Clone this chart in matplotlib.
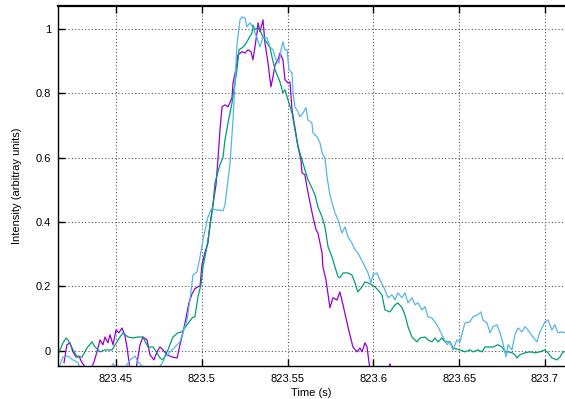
import matplotlib
matplotlib.use("Agg")
import numpy as np
import matplotlib.pyplot as plt

# time offsets in ms after 823.4 s, intensity in arbitrary units
t0 = 823.4

violet_ms = [19.7, 21.4, 23.2, 24.9, 26.7, 28.4, 30.2, 32.5, 34.8, 37.2, 38.9, 40.7, 42.4, 43.6, 45.3,
             46.5, 48.3, 50.0, 51.7, 53.5, 55.2, 56.4, 58.2, 61.1, 64.0, 65.7, 68.1, 69.8, 72.1, 73.9,
             75.6, 77.4, 79.7, 82.6, 85.6, 87.3, 89.0, 90.8, 92.5, 94.3, 96.0, 97.8, 99.0, 100.1, 101.9,
             103.6, 104.8, 106.5, 108.3, 109.4, 110.6, 111.8, 113.5, 115.3, 117.6, 118.2, 119.4, 120.5,
             121.1, 123.4, 125.2, 126.9, 128.7, 129.8, 131.0, 132.2, 132.8, 133.9, 135.7, 136.8, 138.6,
             140.3, 141.5, 142.7, 144.4, 145.6, 147.3, 148.5, 150.2, 151.4, 152.6, 154.3, 156.1, 157.8,
             158.4, 160.1, 161.3, 163.1, 164.8, 166.6, 167.7, 170.1, 170.6, 172.4, 174.7, 176.5, 178.8,
             180.5, 182.3, 185.2, 188.1, 190.5, 192.2, 193.4, 195.1, 196.3, 197.5, 199.2, 203.9, 208.5,
             209.7, 211.4, 215.5]
violet_val = [-0.037, 0.019, 0.025, -0.003, -0.019, -0.016, -0.037, -0.053, -0.065, -0.034, -0.003, 0.034,
              0.019, 0.043, 0.025, 0.050, 0.019, 0.065, 0.056, 0.071, 0.047, 0.012, -0.059, -0.075, 0.019,
              0.043, 0.034, -0.012, -0.028, -0.003, 0.012, 0.003, -0.012, -0.019, -0.022, 0.019, 0.056,
              0.102, 0.149, 0.177, 0.193, 0.199, 0.202, 0.267, 0.307, 0.335, 0.391, 0.453, 0.516, 0.593,
              0.686, 0.758, 0.764, 0.758, 0.786, 0.832, 0.863, 0.894, 0.919, 0.929, 0.925, 0.935, 0.929,
              0.904, 0.944, 0.988, 1.019, 0.991, 1.028, 0.957, 0.894, 0.820, 0.851, 0.888, 0.904, 0.925,
              0.904, 0.842, 0.832, 0.835, 0.748, 0.693, 0.634, 0.593, 0.553, 0.547, 0.509, 0.460, 0.416,
              0.376, 0.366, 0.304, 0.261, 0.220, 0.134, 0.165, 0.158, 0.183, 0.143, 0.075, 0.012, -0.003,
              0.009, -0.003, 0.025, 0.012, -0.037, -0.106, -0.106, -0.065, -0.040, -0.075, -0.137]

green_ms = [16.2, 17.4, 19.1, 20.9, 22.0, 24.4, 27.3, 30.2, 33.1, 36.0, 37.8, 40.7, 43.6, 47.7, 50.6,
            52.3, 54.1, 57.0, 59.9, 62.8, 65.7, 68.6, 71.6, 73.9, 75.6, 77.4, 80.3, 83.2, 86.1, 88.5,
            91.4, 94.3, 96.0, 97.8, 99.5, 100.7, 103.0, 104.8, 106.5, 107.7, 110.6, 112.4, 113.5, 115.3,
            117.6, 120.5, 121.7, 123.4, 125.2, 126.9, 129.3, 129.8, 131.0, 132.2, 133.9, 135.1, 136.8,
            138.0, 139.8, 140.9, 142.7, 144.4, 145.6, 147.3, 148.5, 150.2, 152.6, 154.3, 156.1, 158.4,
            160.1, 161.9, 164.2, 166.0, 167.7, 170.1, 171.8, 173.6, 175.9, 177.6, 179.4, 180.5, 182.3,
            185.2, 187.5, 189.3, 191.0, 193.4, 195.1, 196.9, 199.2, 200.9, 202.7, 205.0, 206.8, 209.7,
            212.6, 214.3, 216.7, 218.4, 220.2, 222.5, 225.4, 227.2, 230.1, 231.8, 234.2, 235.9, 237.7,
            240.0, 241.7, 244.7, 246.4, 250.5, 253.4, 256.3, 258.1, 261.0, 263.3, 265.1, 266.8, 269.7,
            272.6, 275.0, 276.7, 278.5, 280.8, 282.5, 283.7, 285.5, 288.4, 291.3, 294.2, 297.1, 300.0,
            301.8, 304.1, 307.0, 308.8, 310.5, 311.7]
green_val = [-0.012, 0.003, 0.025, 0.040, 0.034, 0.009, -0.019, -0.019, 0.009, 0.028, 0.012, -0.003,
             0.003, 0.003, 0.028, 0.043, 0.056, 0.043, 0.040, 0.043, 0.043, 0.012, 0.012, -0.006, -0.022,
             -0.028, 0.003, 0.043, 0.056, 0.059, 0.081, 0.102, 0.106, 0.168, 0.205, 0.261, 0.323, 0.391,
             0.453, 0.522, 0.578, 0.602, 0.655, 0.708, 0.770, 0.873, 0.935, 0.941, 0.950, 0.966, 0.988,
             1.012, 0.997, 1.003, 0.997, 0.981, 0.966, 0.957, 0.941, 0.913, 0.873, 0.851, 0.835, 0.801,
             0.811, 0.780, 0.739, 0.686, 0.634, 0.593, 0.562, 0.531, 0.506, 0.484, 0.447, 0.416, 0.385,
             0.323, 0.292, 0.261, 0.230, 0.227, 0.242, 0.242, 0.236, 0.211, 0.183, 0.199, 0.214, 0.211,
             0.205, 0.199, 0.189, 0.174, 0.127, 0.121, 0.143, 0.149, 0.134, 0.112, 0.075, 0.043, 0.028,
             0.040, 0.043, 0.034, 0.028, 0.040, 0.028, 0.040, 0.028, 0.028, 0.009, 0.003, -0.003, 0.003,
             -0.003, 0.003, -0.003, 0.012, 0.012, 0.012, 0.019, 0.012, -0.003, -0.003, -0.006, -0.012,
             -0.022, -0.012, -0.006, -0.003, -0.006, -0.003, 0.003, -0.006, -0.022, -0.028, -0.019,
             -0.003, -0.003]

blue_ms = [16.2, 17.4, 19.1, 22.0, 24.9, 27.9, 30.2, 34.8, 40.7, 45.3, 48.3, 50.6, 53.5, 56.4, 58.2,
           61.1, 62.8, 65.2, 67.5, 71.0, 74.5, 76.8, 78.6, 81.5, 84.4, 87.3, 89.0, 91.4, 93.1, 94.9,
           97.2, 99.0, 100.7, 103.6, 105.9, 107.7, 109.4, 112.4, 113.5, 116.4, 118.2, 119.4, 120.5,
           122.3, 123.4, 125.2, 126.3, 128.1, 129.8, 132.2, 133.9, 135.7, 138.0, 139.8, 141.5, 143.2,
           145.0, 146.2, 147.3, 148.5, 149.7, 150.8, 152.6, 153.2, 154.3, 156.1, 157.2, 159.0, 160.7,
           161.9, 164.2, 164.8, 167.1, 168.9, 170.1, 171.8, 173.0, 174.7, 175.9, 177.6, 179.4, 181.7,
           183.5, 185.2, 187.5, 189.3, 191.0, 194.0, 196.9, 198.6, 199.8, 202.1, 203.9, 206.8, 208.5,
           210.9, 212.6, 214.3, 216.7, 218.4, 220.2, 222.5, 224.3, 226.0, 228.3, 230.1, 231.8, 234.2,
           235.9, 237.7, 240.6, 242.9, 244.7, 246.4, 248.7, 250.5, 253.4, 256.3, 258.1, 261.0, 262.7,
           263.9, 266.2, 268.0, 269.7, 272.0, 273.8, 275.5, 277.3, 278.5, 280.8, 282.5, 284.3, 286.6,
           288.4, 290.1, 293.0, 295.4, 297.1, 300.0, 301.8, 304.1, 305.8, 307.6, 309.9, 311.7]
blue_val = [-0.065, -0.043, -0.019, -0.016, -0.028, -0.037, -0.075, -0.106, -0.090, -0.065, -0.040,
            -0.059, -0.090, -0.043, -0.028, -0.016, -0.034, -0.047, -0.090, -0.075, -0.053, -0.040,
            -0.019, -0.003, 0.012, 0.028, 0.056, 0.096, 0.158, 0.236, 0.245, 0.292, 0.345, 0.416, 0.444,
            0.438, 0.438, 0.435, 0.453, 0.578, 0.717, 0.842, 0.950, 1.028, 1.037, 1.034, 1.006, 1.019,
            1.003, 0.972, 0.944, 0.975, 0.972, 0.944, 0.935, 0.904, 0.894, 0.935, 0.960, 0.935, 0.935,
            0.873, 0.863, 0.801, 0.758, 0.742, 0.727, 0.739, 0.755, 0.717, 0.708, 0.677, 0.665, 0.646,
            0.615, 0.599, 0.540, 0.484, 0.460, 0.429, 0.407, 0.366, 0.385, 0.354, 0.335, 0.314, 0.304,
            0.273, 0.242, 0.211, 0.236, 0.242, 0.220, 0.189, 0.165, 0.174, 0.158, 0.180, 0.165, 0.180,
            0.149, 0.165, 0.143, 0.149, 0.127, 0.137, 0.106, 0.102, 0.090, 0.075, 0.043, 0.019, 0.028,
            0.003, 0.034, 0.028, 0.087, 0.090, 0.106, 0.112, 0.121, 0.096, 0.087, 0.056, 0.075, 0.081,
            0.056, 0.025, -0.019, 0.019, 0.003, 0.050, 0.071, 0.059, 0.075, 0.065, 0.043, 0.028, 0.059,
            0.090, 0.096, 0.065, 0.081, 0.056, 0.059, 0.056]

xticks = [823.45, 823.5, 823.55, 823.6, 823.65, 823.7]
xtick_labels = ["823.45", "823.5", "823.55", "823.6", "823.65", "823.7"]
yticks = [0, 0.2, 0.4, 0.6, 0.8, 1]
ytick_labels = ["0", "0.2", "0.4", "0.6", "0.8", "1"]

plt.rcParams['font.family'] = ['Liberation Sans', 'DejaVu Sans']

fig = plt.figure(figsize=(5.65, 3.99), dpi=100)
ax = fig.add_axes([58 / 565, 33 / 399, 507 / 565, 360 / 399])

ax.plot(t0 + np.array(violet_ms) / 1000, violet_val, color="#9400d3", lw=0.9)
ax.plot(t0 + np.array(green_ms) / 1000, green_val, color="#009e73", lw=0.9)
ax.plot(t0 + np.array(blue_ms) / 1000, blue_val, color="#56b4e9", lw=0.9)

ax.set_xlim(823.4162, 823.7117)
ax.set_ylim(-0.047, 1.071)
ax.set_xticks(xticks, labels=xtick_labels)
ax.set_yticks(yticks, labels=ytick_labels)
ax.tick_params(direction="in", length=5, width=1, labelsize=8, top=True, right=False,
               colors="black")
ax.tick_params(axis="x", pad=5.5)
ax.tick_params(axis="y", pad=5)
ax.grid(True, color="#555555", linestyle=(0, (1, 2)), lw=0.8)
for s in ["left", "bottom"]:
    ax.spines[s].set_linewidth(1.0)
ax.spines["top"].set_linewidth(1.6)
ax.spines["right"].set_visible(False)

ax.set_xlabel("Time (s)", fontsize=8, labelpad=3)
ax.set_ylabel("Intensity (arbitray units)", fontsize=8, labelpad=10)

fig.savefig("out.png", dpi=100)
